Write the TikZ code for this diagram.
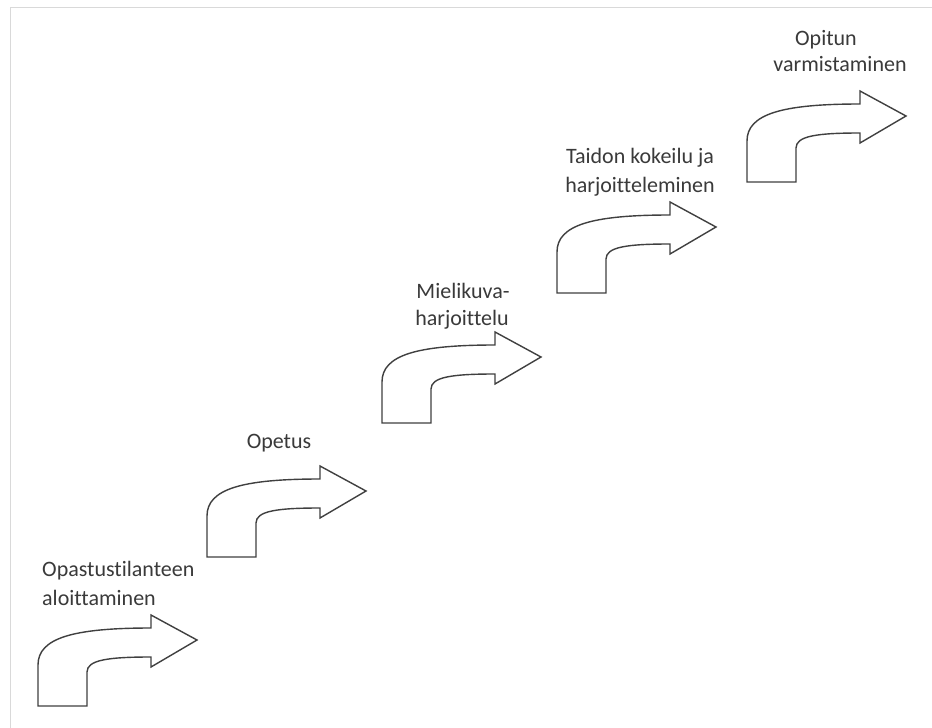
\documentclass[tikz,border=0pt]{standalone}
\usepackage{fontspec}
\setmainfont[Ligatures={NoCommon}]{Carlito}
\definecolor{arrowline}{HTML}{404040}
\definecolor{txt}{HTML}{3A3A3A}
\definecolor{frame}{HTML}{D9D9D9}
\tikzset{
  x=1pt, y=-1pt,
  lbl/.style={anchor=base, text=txt, font=\fontsize{22}{28}\selectfont, inner sep=0pt},
  pics/bentup/.style={code={
    \draw[arrowline, line width=1.4pt, line join=miter, fill=white]
      (0,0) -- (0,-41) .. controls (0,-68) and (35,-78) .. (113,-78)
      -- (113,-91) -- (159,-66) -- (113,-39) -- (113,-49)
      .. controls (70,-49) and (49,-46) .. (49,-34) -- (49,0) -- cycle;
  }}
}
\begin{document}
\begin{tikzpicture}
\useasboundingbox (0,0) rectangle (932,728);
\fill[white] (0,0) rectangle (932,728);
\draw[frame, line width=1pt] (10,728) -- (10,7) -- (932,7);
% arrows
\pic at (38,706) {bentup};
\pic at (207,557) {bentup};
\pic at (382,423) {bentup};
\pic at (557,293) {bentup};
\pic at (747,182) {bentup};
% labels
\node[lbl, anchor=base west] (t1a) at (42,576) {Opastustilanteen};
\node[lbl, anchor=base west] (t1b) at (42,605) {aloittaminen};
\node[lbl] (t2) at (279,448) {Opetus};
\node[lbl] (t3a) at (463,298) {Mielikuva-};
\node[lbl] (t3b) at (462,325) {harjoittelu};
\node[lbl] (t4a) at (640,163) {Taidon kokeilu ja};
\node[lbl] (t4b) at (640,192) {harjoitteleminen};
\node[lbl] (t5a) at (826,45) {Opitun};
\node[lbl] (t5b) at (840,71) {varmistaminen};
\end{tikzpicture}
\end{document}
